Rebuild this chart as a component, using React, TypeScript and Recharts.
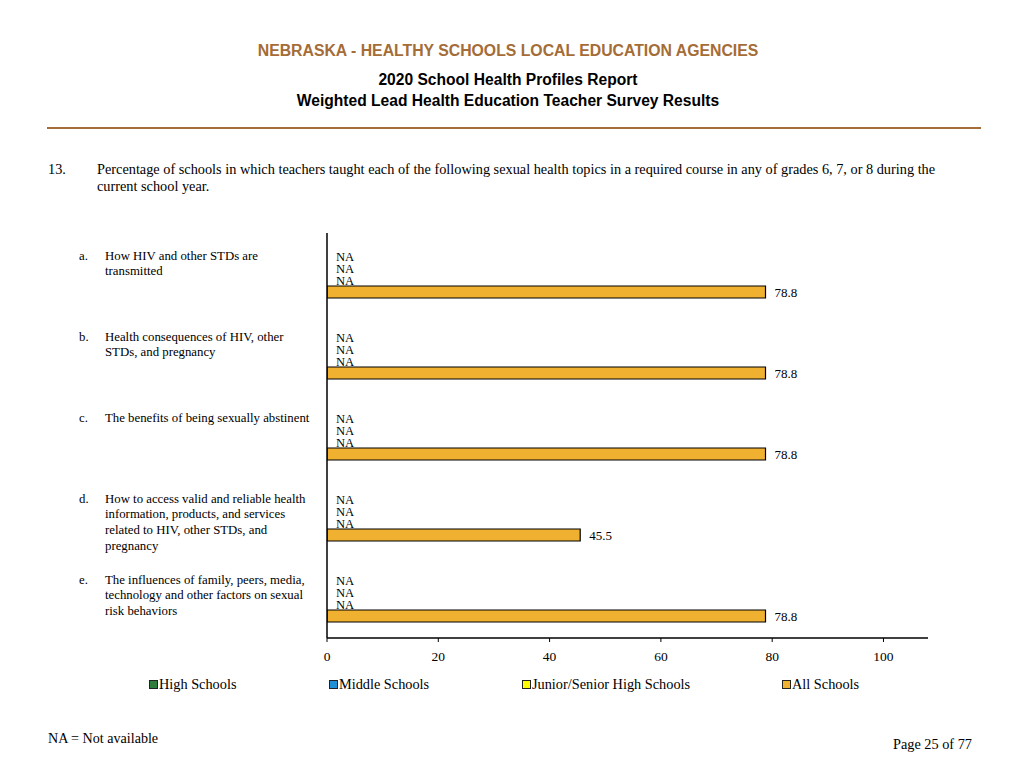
import { Bar, BarChart, Rectangle, XAxis, YAxis } from "recharts";

const topicLetters = ["a.", "b.", "c.", "d.", "e."];
const topicLines = [
  ["How HIV and other STDs are", "transmitted"],
  ["Health consequences of HIV, other", "STDs, and pregnancy"],
  ["The benefits of being sexually abstinent"],
  [
    "How to access valid and reliable health",
    "information, products, and services",
    "related to HIV, other STDs, and",
    "pregnancy",
  ],
  [
    "The influences of family, peers, media,",
    "technology and other factors on sexual",
    "risk behaviors",
  ],
];

// null = NA (not available)
const highSchools: (number | null)[] = [null, null, null, null, null];
const middleSchools: (number | null)[] = [null, null, null, null, null];
const juniorSenior: (number | null)[] = [null, null, null, null, null];
const allSchools: (number | null)[] = [78.8, 78.8, 78.8, 45.5, 78.8];

const xTicks = [0, 20, 40, 60, 80, 100];

const series = [
  { key: "hs", name: "High Schools", values: highSchools, color: "#2E7D3A" },
  { key: "ms", name: "Middle Schools", values: middleSchools, color: "#1F8FD6" },
  { key: "js", name: "Junior/Senior High Schools", values: juniorSenior, color: "#FFFF00" },
  { key: "all", name: "All Schools", values: allSchools, color: "#F0B030" },
];

const legendLeft = [149, 329, 522, 782];

const data = topicLetters.map((letter, i) => {
  const row: Record<string, any> = { topic: letter };
  series.forEach((s) => {
    row[s.key] = s.values[i] ?? 0;
  });
  return row;
});

const serif = "'Liberation Serif', 'Times New Roman', serif";
const sans = "'Liberation Sans', Arial, sans-serif";
const brown = "#A46C36";

function TopicTick({ y, payload }: any) {
  const i = payload.index;
  const top = y - 14;
  return (
    <g fontFamily={serif} fontSize={12.8} fill="#000">
      <text x={79} y={top}>
        {topicLetters[i]}
      </text>
      {topicLines[i].map((line, j) => (
        <text key={j} x={105} y={top + j * 15.7}>
          {line}
        </text>
      ))}
    </g>
  );
}

// bar shape that also writes the value (or NA) next to the bar
function makeShape(values: (number | null)[]) {
  return (props: any) => {
    const { x, y, width, height, index, fill } = props;
    const v = values[index];
    const cy = y + height / 2 + 4.5;
    if (v == null) {
      return (
        <text x={x + 9} y={cy} fontFamily={serif} fontSize={12.6} fill="#000">
          NA
        </text>
      );
    }
    return (
      <g>
        <Rectangle x={x} y={y} width={width} height={height} fill={fill} stroke="#000" strokeWidth={1.2} />
        <text x={x + width + 9} y={cy} fontFamily={serif} fontSize={13} fill="#000">
          {v.toFixed(1)}
        </text>
      </g>
    );
  };
}

export default function App() {
  return (
    <div
      style={{
        position: "absolute",
        left: 0,
        top: 0,
        width: 1024,
        height: 768,
        background: "#fff",
        fontFamily: serif,
      }}
    >
      <div
        style={{
          position: "absolute",
          top: 42,
          left: 0,
          width: 1016,
          textAlign: "center",
          fontFamily: sans,
          fontWeight: "bold",
          fontSize: 15.8,
          color: brown,
        }}
      >
        NEBRASKA - HEALTHY SCHOOLS LOCAL EDUCATION AGENCIES
      </div>
      <div
        style={{
          position: "absolute",
          top: 69,
          left: 0,
          width: 1016,
          textAlign: "center",
          fontFamily: sans,
          fontWeight: "bold",
          fontSize: 15.6,
          lineHeight: "21px",
          color: "#000",
        }}
      >
        2020 School Health Profiles Report
        <br />
        Weighted Lead Health Education Teacher Survey Results
      </div>
      <div
        style={{
          position: "absolute",
          top: 127,
          left: 47,
          width: 934,
          height: 2,
          background: brown,
        }}
      />
      <div style={{ position: "absolute", top: 161, left: 48, fontSize: 14.3 }}>13.</div>
      <div
        style={{
          position: "absolute",
          top: 161,
          left: 97,
          fontSize: 14.3,
          lineHeight: "17px",
          whiteSpace: "nowrap",
        }}
      >
        Percentage of schools in which teachers taught each of the following sexual health topics in a
        required course in any of grades 6, 7, or 8 during the
        <br />
        current school year.
      </div>

      <div style={{ position: "absolute", left: 0, top: 0 }}>
        <BarChart
          width={1024}
          height={700}
          layout="vertical"
          data={data}
          margin={{ top: 233, right: 96, bottom: 32, left: 0 }}
          barSize={12}
          barGap={0}
        >
          <XAxis
            type="number"
            domain={[0, 108]}
            ticks={xTicks}
            allowDataOverflow
            height={30}
            axisLine={{ stroke: "#000", strokeWidth: 1.5 }}
            tickLine={{ stroke: "#000" }}
            tickSize={4}
            tickMargin={9}
            tick={{ fill: "#000", fontFamily: serif, fontSize: 13.5 }}
          />
          <YAxis
            type="category"
            dataKey="topic"
            width={327}
            axisLine={{ stroke: "#000", strokeWidth: 1.5 }}
            tickLine={false}
            tick={<TopicTick />}
            interval={0}
          />
          {series.map((s) => (
            <Bar
              key={s.key}
              dataKey={s.key}
              name={s.name}
              fill={s.color}
              shape={makeShape(s.values)}
              isAnimationActive={false}
            />
          ))}
        </BarChart>
      </div>

      {series.map((s, i) => (
        <div
          key={s.key}
          style={{
            position: "absolute",
            left: legendLeft[i],
            top: 676,
            fontSize: 14.3,
            display: "flex",
            alignItems: "center",
            whiteSpace: "nowrap",
          }}
        >
          <span
            style={{
              display: "inline-block",
              width: 7,
              height: 7,
              background: s.color,
              border: "1px solid #222",
              marginRight: 1,
            }}
          />
          {s.name}
        </div>
      ))}

      <div style={{ position: "absolute", left: 48, top: 730, fontSize: 14.1 }}>NA = Not available</div>
      <div style={{ position: "absolute", right: 52, top: 736, fontSize: 14.3 }}>Page 25 of 77</div>
    </div>
  );
}
